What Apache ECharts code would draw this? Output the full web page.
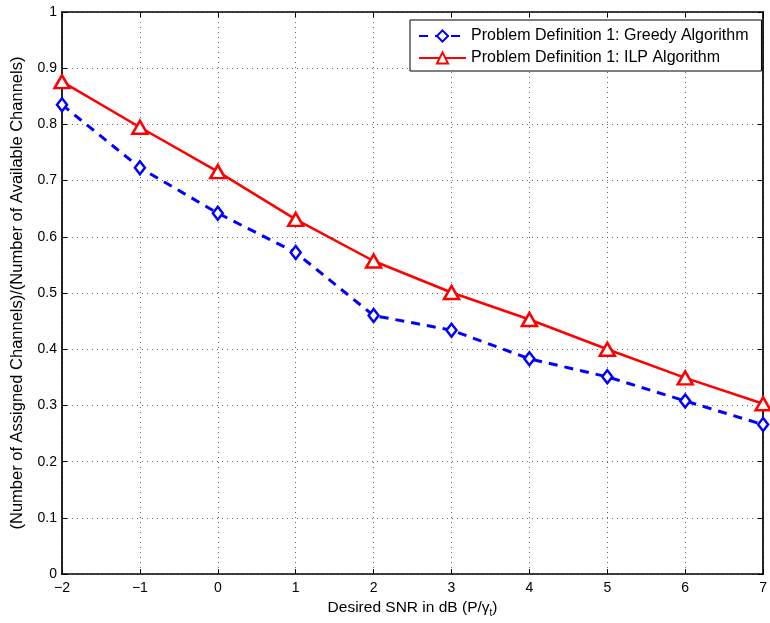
<!DOCTYPE html>
<html><head><meta charset="utf-8">
<script src="https://cdn.jsdelivr.net/npm/echarts@6/dist/echarts.min.js"></script>
<style>html,body{margin:0;padding:0;background:#fff}#c{width:770px;height:623px}</style>
</head><body><div id="c"></div>
<script>
const snr = [-2, -1, 0, 1, 2, 3, 4, 5, 6, 7];
const greedy = [0.835, 0.723, 0.642, 0.572, 0.460, 0.434, 0.383, 0.351, 0.308, 0.266];
const ilp = [0.876, 0.795, 0.716, 0.631, 0.557, 0.501, 0.453, 0.400, 0.349, 0.303];
const seriesNames = ['Problem Definition 1: Greedy Algorithm', 'Problem Definition 1: ILP Algorithm'];

const chart = echarts.init(document.getElementById('c'));
const font = 'Liberation Sans, Arial, sans-serif';
const minus = v => String(v).replace('-', '\u2212');
const grid = {left: 62, right: 3, top: 12, bottom: 43};
const splitLine = {show: true, lineStyle: {color: '#666', type: [1, 4], width: 1}};
const axLine = {show: true, onZero: false, lineStyle: {color: '#000', width: 1.7}};
const tick = {show: true, inside: true, length: 5, lineStyle: {color: '#000', width: 1}};
chart.setOption({
  animation: false,
  backgroundColor: '#fff',
  grid: grid,
  legend: {
    left: 410, top: 20, orient: 'vertical',
    backgroundColor: '#fff', borderColor: '#000', borderWidth: 1,
    padding: [8, 13, 5, 8], itemGap: 6, itemWidth: 47, itemHeight: 14,
    textStyle: {fontFamily: font, fontSize: 16, color: '#000'},
    data: seriesNames
  },
  xAxis: [{
    type: 'value', min: -2, max: 7, interval: 1,
    axisLine: axLine, axisTick: tick,
    axisLabel: {formatter: minus, color: '#000', fontFamily: font, fontSize: 14, margin: 7},
    splitLine: splitLine,
    name: '{n|Desired SNR in dB (P/γ}{s|t}{n|)}',
    nameLocation: 'middle', nameGap: 22,
    nameTextStyle: {rich: {n: {fontFamily: font, fontSize: 15.5, color: '#000'}, s: {fontFamily: font, fontSize: 10, color: '#000', padding: [10, 0, 0, 0]}}}
  }, {
    type: 'value', min: -2, max: 7, interval: 1, position: 'top',
    axisLine: axLine, axisTick: tick,
    axisLabel: {show: false}, splitLine: {show: false}
  }],
  yAxis: [{
    type: 'value', min: 0, max: 1, interval: 0.1,
    axisLine: axLine, axisTick: tick,
    axisLabel: {formatter: v => Math.round(v * 10) / 10 + '', color: '#000', fontFamily: font, fontSize: 14, margin: 5},
    splitLine: splitLine,
    name: '(Number of Assigned Channels)/(Number of Available Channels)',
    nameLocation: 'middle', nameGap: 36,
    nameTextStyle: {fontFamily: font, fontSize: 16.5, color: '#000'}
  }, {
    type: 'value', min: 0, max: 1, interval: 0.1, position: 'right',
    axisLine: axLine, axisTick: tick,
    axisLabel: {show: false}, splitLine: {show: false}
  }],
  series: [{
    name: seriesNames[0], type: 'line',
    data: snr.map((x, i) => [x, greedy[i]]),
    symbol: 'diamond', symbolSize: [10, 13],
    lineStyle: {color: '#0000ff', width: 3, type: [9, 7]},
    itemStyle: {color: '#fff', borderColor: '#0000ff', borderWidth: 2.5},
    z: 3
  }, {
    name: seriesNames[1], type: 'line',
    data: snr.map((x, i) => [x, ilp[i]]),
    symbol: 'triangle', symbolSize: [15, 13],
    lineStyle: {color: '#ff0000', width: 2.5},
    itemStyle: {color: '#fff', borderColor: '#ff0000', borderWidth: 2.5},
    z: 4
  }]
});
</script></body></html>
